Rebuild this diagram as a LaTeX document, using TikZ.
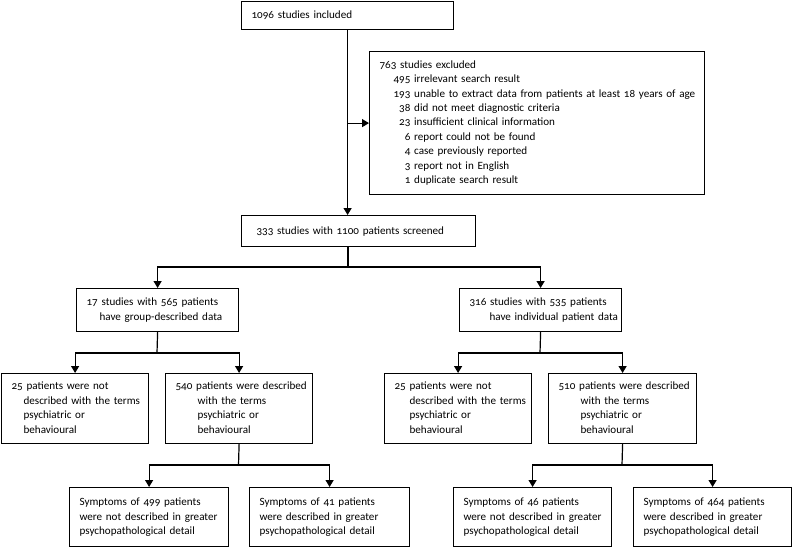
\documentclass[tikz,border=0pt]{standalone}
\usepackage{fontspec}
\setmainfont{Carlito}[Numbers=OldStyle]
\usetikzlibrary{arrows.meta}
\tikzset{
	box/.style={draw, line width=1.2pt, anchor=north west, align=left, inner xsep=10pt, inner ysep=0pt, font=\fontsize{11.1}{14.5}\selectfont},
	arr/.style={line width=1.2pt, -{Triangle[width=8pt,length=7pt]}},
	link/.style={line width=1.2pt}
}
\begin{document}
\begin{tikzpicture}[x=1pt,y=-1pt]
					\useasboundingbox (0,0) rectangle (792,547);
					\node [box, text width=192pt, minimum height=28pt] (incl) at (241,1) {1096 studies included};
					\node [box, text width=315pt, minimum height=143pt] (excl) at (369,51) {\renewcommand\arraystretch{0.99}\begin{tabular}{@{\hspace{14pt}}r@{ }l@{}}
						\multicolumn{2}{@{}l@{}}{763 studies excluded}\\
						495 & irrelevant search result\\
						193 & unable to extract data from patients at least 18 years of age\\
						38 & did not meet diagnostic criteria\\
						23 & insufficient clinical information\\
						6 & report could not be found\\
						4 & case previously reported\\
						3 & report not in English\\
						1 & duplicate search result
					\end{tabular}};
					\node [box, text width=214pt, minimum height=31pt] (scr) at (241,215) {\hspace*{5pt}333 studies with 1100 patients screened};
					\node [box, text width=142pt, minimum height=43pt] (grp) at (76,288) {\begin{tabular}{@{}l@{}}17 studies with 565 patients\\\hspace*{13pt}have group-described data\end{tabular}};
					\node [box, text width=142pt, minimum height=43pt] (ind) at (459,288) {\begin{tabular}{@{}l@{}}316 studies with 535 patients\\\hspace*{20pt}have individual patient data\end{tabular}};
					\node [box, text width=127pt, minimum height=70pt] (gnot) at (1,373) {\begin{tabular}{@{}l@{}}25 patients were not\\\hspace*{12pt}described with the terms\\\hspace*{12pt}psychiatric or\\\hspace*{12pt}behavioural\end{tabular}};
					\node [box, text width=127pt, minimum height=70pt] (gdes) at (165,373) {\begin{tabular}{@{}l@{}}540 patients were described\\\hspace*{22pt}with the terms\\\hspace*{22pt}psychiatric or\\\hspace*{22pt}behavioural\end{tabular}};
					\node [box, text width=127pt, minimum height=70pt] (inot) at (384,373) {\begin{tabular}{@{}l@{}}25 patients were not\\\hspace*{15pt}described with the terms\\\hspace*{15pt}psychiatric or\\\hspace*{15pt}behavioural\end{tabular}};
					\node [box, text width=128pt, minimum height=70pt] (ides) at (548,373) {\begin{tabular}{@{}l@{}}510 patients were described\\\hspace*{22pt}with the terms\\\hspace*{22pt}psychiatric or\\\hspace*{22pt}behavioural\end{tabular}};
					\node [box, text width=139pt, minimum height=59pt] (s499) at (69,487) {\begin{tabular}{@{}l@{}}Symptoms of 499 patients\\were not described in greater\\psychopathological detail\end{tabular}};
					\node [box, text width=140pt, minimum height=59pt] (s41) at (249,487) {\begin{tabular}{@{}l@{}}Symptoms of 41 patients\\were described in greater\\psychopathological detail\end{tabular}};
					\node [box, text width=138pt, minimum height=59pt] (s46) at (453,487) {\begin{tabular}{@{}l@{}}Symptoms of 46 patients\\were not described in greater\\psychopathological detail\end{tabular}};
					\node [box, text width=138pt, minimum height=59pt] (s464) at (633,487) {\begin{tabular}{@{}l@{}}Symptoms of 464 patients\\were described in greater\\psychopathological detail\end{tabular}};
					\coordinate (sp1) at (348,267);
					\coordinate (sp2) at (157,353);
					\coordinate (sp3) at (540,353);
					\coordinate (sp4) at (238.5,465);
					\coordinate (sp5) at (622,465);
					\draw [arr] (incl.south) -- (incl.south |- scr.north);
					\draw [arr] (incl.south |- excl.west) -- (excl.west);
					\draw [link] (sp1 |- scr.south) -- (sp1);
					\draw [arr] (sp1) -| (grp.north);
					\draw [arr] (sp1) -| (ind.north);
					\draw [link] (grp.south) -- (sp2);
					\draw [arr] (sp2) -| (gnot.north);
					\draw [arr] (sp2) -| (gdes.north);
					\draw [link] (ind.south) -- (sp3);
					\draw [arr] (sp3) -| (inot.north);
					\draw [arr] (sp3) -| (ides.north);
					\draw [link] (gdes.south) -- (sp4);
					\draw [arr] (sp4) -| (s499.north);
					\draw [arr] (sp4) -| (s41.north);
					\draw [link] (ides.south) -- (sp5);
					\draw [arr] (sp5) -| (s46.north);
					\draw [arr] (sp5) -| (s464.north);
				\end{tikzpicture}
\end{document}
